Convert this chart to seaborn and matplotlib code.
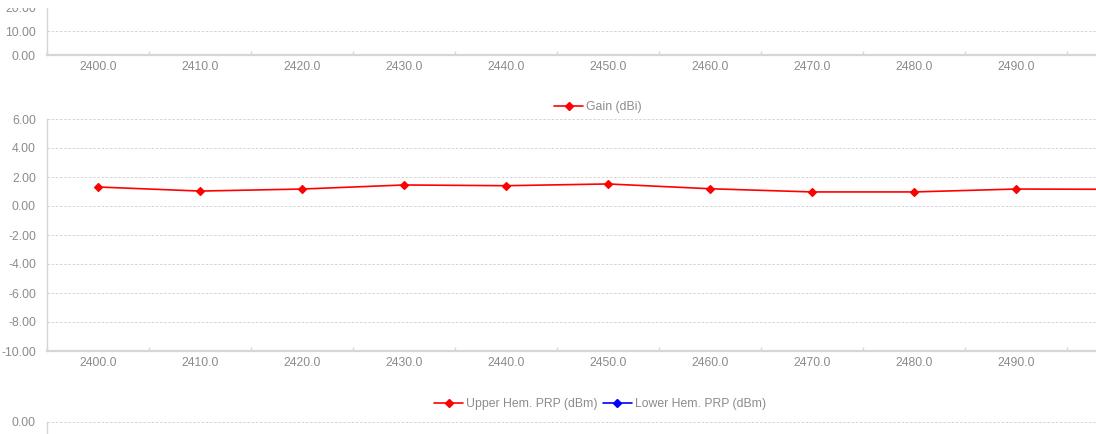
import numpy as np
import matplotlib
matplotlib.use("Agg")
import matplotlib.pyplot as plt
from matplotlib.lines import Line2D
from matplotlib.patches import Rectangle
import seaborn as sns
import pandas as pd

# data
freqs = ["2400.0", "2410.0", "2420.0", "2430.0", "2440.0",
         "2450.0", "2460.0", "2470.0", "2480.0", "2490.0", "2500.0"]
gain_dbi = [1.31, 1.03, 1.17, 1.45, 1.40, 1.52, 1.19, 0.97, 0.97, 1.17, 1.15]

df = pd.DataFrame({"freq": freqs, "gain": gain_dbi})

sns.set_theme(style="white")
plt.rcParams['font.family'] = ['Liberation Sans', 'DejaVu Sans']

W, H = 1096, 434
fig = plt.figure(figsize=(W / 100, H / 100), dpi=100)

txt = "#8c8c8c"
grid_c = "#cfcfcf"
spine_c = "#d6d6d6"
fs = 8.8
n = len(freqs)
left = 47 / W
width = n * 102 / W
# last category sits past the right edge of the screenshot
xlabels = freqs[:-1] + [""]


def style_axis(ax, ymin, ymax, step, labels=True):
    ax.set_xlim(-0.5, n - 0.5)
    ax.set_ylim(ymin, ymax)
    ticks = np.arange(ymin, ymax + step / 2, step)
    ax.set_yticks(ticks)
    ax.set_yticklabels([f"{v:.2f}" for v in ticks])
    ax.set_xticks(range(n))
    ax.set_xticklabels(xlabels if labels else [""] * n)
    ax.set_xticks(np.arange(-0.5, n, 1), minor=True)
    ax.tick_params(axis="x", which="major", length=0, pad=4, labelsize=fs, colors=txt)
    ax.tick_params(axis="x", which="minor", length=3, direction="in", color=spine_c, bottom=True)
    ax.tick_params(axis="y", length=0, pad=8, labelsize=fs, colors=txt)
    ax.yaxis.grid(True, linestyle=(0, (3, 2)), color=grid_c, linewidth=0.6)
    ax.xaxis.grid(False)
    ax.set_axisbelow(True)
    for s in ["top", "right"]:
        ax.spines[s].set_visible(False)
    ax.spines["left"].set_color(spine_c)
    ax.spines["left"].set_linewidth(1.0)
    ax.spines["bottom"].set_color(spine_c)
    ax.spines["bottom"].set_linewidth(1.6)
    ax.set_xlabel("")
    ax.set_ylabel("")


# top chart (mostly scrolled out of view)
ax_top = fig.add_axes([left, (H - 55) / H, width, 72 / H])
style_axis(ax_top, 0, 30, 10)

# middle chart: gain
ax_mid = fig.add_axes([left, (H - 351) / H, width, (351 - 119) / H])
sns.pointplot(data=df, x="freq", y="gain", ax=ax_mid, color="#ff0000",
              markers="D", markersize=4, linewidth=1.2, errorbar=None)
style_axis(ax_mid, -10, 6, 2)

leg_kw = dict(frameon=False, fontsize=fs, labelcolor=txt, handlelength=2.4,
              handletextpad=0.25, columnspacing=0.4, loc="center")
fig.legend(handles=[Line2D([], [], color="#ff0000", marker="D", markersize=4, lw=1.2)],
           labels=["Gain (dBi)"], bbox_to_anchor=(598 / W, (H - 107) / H), **leg_kw)

# bottom chart (only the top edge is visible)
ax_bot = fig.add_axes([left, (H - 422) / H - 0.5, width, 0.5])
style_axis(ax_bot, -50, 0, 10, labels=False)
fig.legend(handles=[Line2D([], [], color="#ff0000", marker="D", markersize=4, lw=1.2),
                    Line2D([], [], color="#0000ff", marker="D", markersize=4, lw=1.2)],
           labels=["Upper Hem. PRP (dBm)", "Lower Hem. PRP (dBm)"], ncol=2,
           bbox_to_anchor=(600 / W, (H - 404) / H), **leg_kw)

# the report view is scrolled: a strip at the very top hides the chart above
fig.patches.append(Rectangle((0, (H - 8) / H), 1, 8 / H, transform=fig.transFigure,
                             facecolor="white", edgecolor="none", zorder=10))

plt.savefig("out.png", dpi=100)
